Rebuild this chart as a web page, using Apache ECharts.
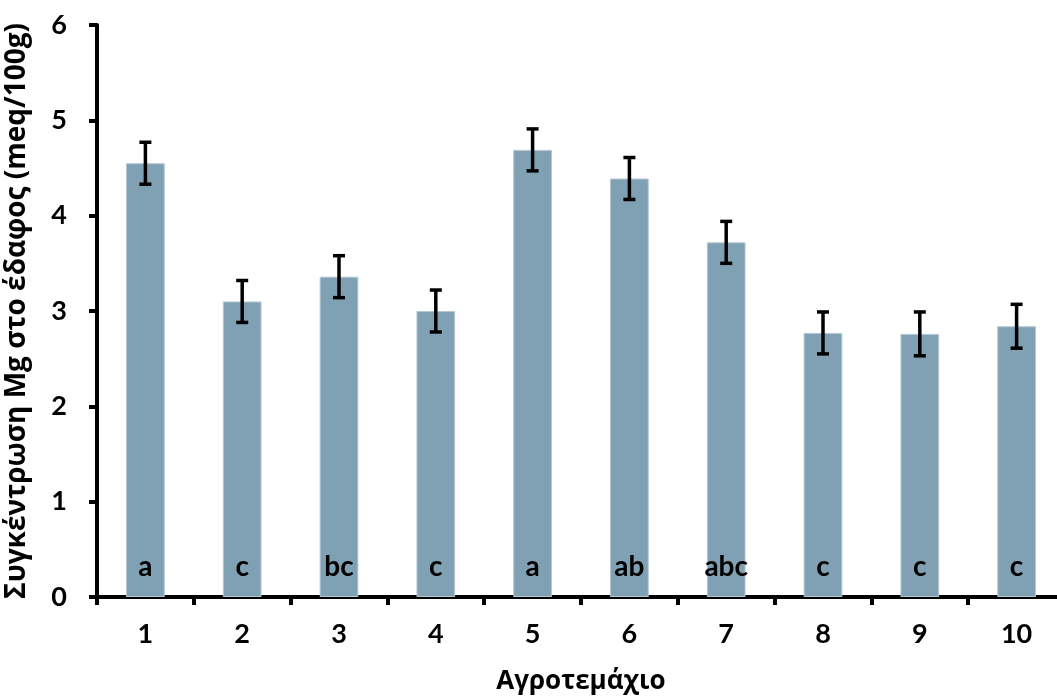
<!DOCTYPE html>
<html>
<head>
<meta charset="utf-8">
<script src="https://cdn.jsdelivr.net/npm/echarts@6/dist/echarts.min.js"></script>
<style>
  html, body { margin: 0; padding: 0; background: #fff; }
  #chart { width: 1057px; height: 699px; }
</style>
</head>
<body>
<div id="chart"></div>
<script>
// Plot numbers (Αγροτεμάχιο) and mean Mg concentration with standard error
const categories = ['1', '2', '3', '4', '5', '6', '7', '8', '9', '10'];
const meanMg = [4.55, 3.10, 3.36, 3.00, 4.69, 4.39, 3.72, 2.77, 2.76, 2.84];
const errMg = [0.22, 0.22, 0.22, 0.22, 0.22, 0.22, 0.22, 0.22, 0.23, 0.23];
const groupLetters = ['a', 'c', 'bc', 'c', 'a', 'ab', 'abc', 'c', 'c', 'c'];
const yTicks = [0, 1, 2, 3, 4, 5, 6];

const tickFont = 'Lato, "Open Sans", sans-serif';
const titleFont = '"Open Sans", sans-serif';

const chart = echarts.init(document.getElementById('chart'), null, { renderer: 'canvas' });

const errorData = meanMg.map((m, i) => [i, m - errMg[i], m + errMg[i]]);

chart.setOption({
  animation: false,
  backgroundColor: '#ffffff',
  grid: { left: 97, top: 25, bottom: 102, width: 968, containLabel: false, outerBoundsMode: 'none' },
  xAxis: {
    type: 'category',
    data: categories,
    name: 'Αγροτεμάχιο',
    nameLocation: 'middle',
    nameGap: 72,
    nameTextStyle: { fontFamily: titleFont, fontWeight: 'bold', fontSize: 26, color: '#000' },
    axisLine: { lineStyle: { color: '#000', width: 4 } },
    axisTick: { show: true, alignWithLabel: false, length: 8, lineStyle: { color: '#000', width: 4 } },
    axisLabel: { fontFamily: tickFont, fontWeight: 'bold', fontSize: 27, color: '#000', margin: 24 },
    splitLine: { show: false }
  },
  yAxis: {
    type: 'value',
    min: yTicks[0],
    max: yTicks[yTicks.length - 1],
    interval: 1,
    name: 'Συγκέντρωση Mg στο έδαφος (meq/100g)',
    nameLocation: 'middle',
    nameRotate: 90,
    nameGap: 66,
    nameTextStyle: { fontFamily: titleFont, fontWeight: 'bold', fontSize: 28, color: '#000' },
    axisLine: { show: true, lineStyle: { color: '#000', width: 4 } },
    axisTick: { show: true, length: 8, lineStyle: { color: '#000', width: 4 } },
    axisLabel: { fontFamily: tickFont, fontWeight: 'bold', fontSize: 27, color: '#000', margin: 30 },
    splitLine: { show: false }
  },
  series: [
    {
      type: 'bar',
      data: meanMg.map((v, i) => ({
        value: v,
        label: { formatter: groupLetters[i] }
      })),
      barWidth: '40%',
      itemStyle: { color: '#80a1b4', borderColor: '#b3c7d3', borderWidth: 1 },
      label: {
        show: true,
        position: 'insideBottom',
        distance: 16,
        fontFamily: tickFont,
        fontWeight: 'bold',
        fontSize: 28,
        color: '#000'
      },
      z: 2
    },
    {
      type: 'custom',
      data: errorData,
      renderItem: function (params, api) {
        const x = api.value(0);
        const lo = api.coord([x, api.value(1)]);
        const hi = api.coord([x, api.value(2)]);
        const half = 6;
        const style = { stroke: '#000', lineWidth: 3.5 };
        return {
          type: 'group',
          children: [
            { type: 'line', shape: { x1: lo[0], y1: lo[1], x2: hi[0], y2: hi[1] }, style: style },
            { type: 'line', shape: { x1: lo[0] - half, y1: lo[1], x2: lo[0] + half, y2: lo[1] }, style: style },
            { type: 'line', shape: { x1: hi[0] - half, y1: hi[1], x2: hi[0] + half, y2: hi[1] }, style: style }
          ]
        };
      },
      z: 3
    }
  ]
});
</script>
</body>
</html>
